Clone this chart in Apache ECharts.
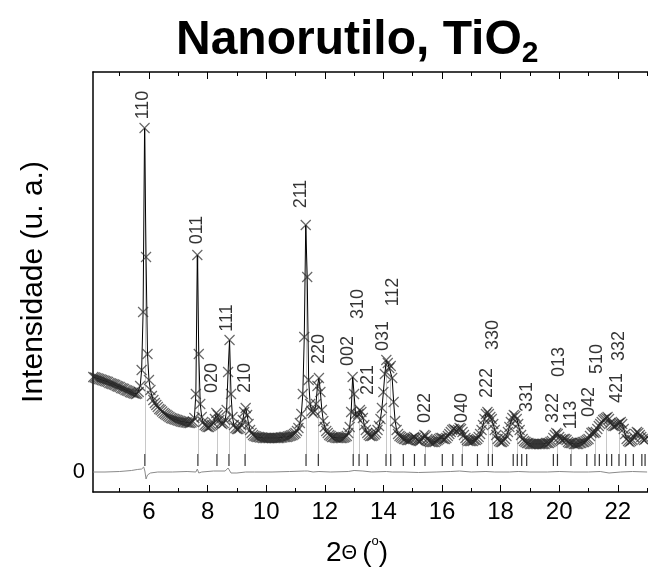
<!DOCTYPE html>
<html>
<head>
<meta charset="utf-8">
<title>Nanorutilo, TiO2</title>
<script src="https://cdn.jsdelivr.net/npm/echarts@6.0.0/dist/echarts.min.js"></script>
<style>
  html, body { margin: 0; padding: 0; background: #fff; }
  #chart { width: 648px; height: 574px; }
</style>
</head>
<body>
<div id="chart"></div>
<script>
// observed pattern, one value every 0.05 deg starting at 4.10
const obsStart = 4.10;
const obsStep = 0.05;
const obsY = [
  95, 94.5, 94, 93.5, 93, 92.5, 92, 91.5, 91, 90.5, 90, 89, 88.5, 88, 87.5, 87, 86, 85.5, 85, 84,
  83.5, 83, 82, 81.5, 81, 80, 79.5, 79, 78.5, 78, 78.5, 80, 86, 102, 160, 344, 215, 118, 92, 82,
  76, 72, 69, 67, 65, 63, 62, 60.5, 59, 58, 57, 56, 55, 54, 53.5, 53, 52.5, 52, 51.5, 51,
  50.5, 50, 50, 49.5, 49.5, 49, 49, 49.5, 50.5, 54, 78, 217, 118, 68, 55, 50, 47, 46, 45, 45,
  46, 47, 49, 53, 59, 57, 52, 49, 48, 49, 52, 62, 100, 132, 78, 55, 47, 44, 43, 43,
  44, 47, 52, 60, 64, 57, 48, 42, 39, 37, 36, 35.5, 35, 35, 34.5, 34.5, 34, 34, 34, 34,
  34, 34, 34, 34, 34, 34, 34, 34, 34.5, 34.5, 35, 35, 35, 35.5, 36, 36.5, 37, 38, 39, 41,
  44, 49, 58, 78, 135, 247, 195, 92, 68, 61, 59, 61, 68, 86, 94, 80, 62, 51, 45, 41,
  39, 37, 36, 35, 35, 34.5, 34, 34, 34, 34, 34, 34.5, 35, 36, 39, 45, 60, 95, 78, 58,
  55, 58, 62, 60, 54, 47, 42, 39, 37, 36, 36, 36.5, 37.5, 39, 42, 46, 53, 64, 80, 98,
  112, 109, 104, 106, 94, 70, 51, 42, 38, 36, 35, 34, 33, 33, 32, 32, 32, 33, 34, 35,
  34, 32, 31, 31, 32, 34, 37, 36, 33, 31, 30, 30, 30, 30, 31, 32, 33, 34, 34, 33,
  33, 34, 36, 38, 40, 42, 43, 42, 41, 42, 44, 43, 40, 37, 34, 32, 31, 31, 31, 31,
  32, 32, 33, 35, 38, 42, 47, 53, 58, 60, 58, 55, 53, 48, 42, 37, 33, 31, 30, 30,
  31, 33, 36, 40, 45, 50, 54, 57, 56, 53, 48, 42, 37, 33, 31, 30, 29, 29, 28, 28,
  28, 28, 28, 28, 28, 28, 28, 28, 28, 29, 29, 29, 30, 31, 34, 37, 39, 38, 35, 33,
  32, 33, 33, 32, 30, 29, 29, 29, 28, 28, 28, 28, 29, 29, 30, 30, 31, 32, 33, 36,
  39, 40, 39, 40, 43, 46, 48, 50, 52, 53, 54, 55, 53, 49, 47, 46, 46, 47, 48, 49,
  50, 48, 43, 38, 33, 31, 30, 31, 32, 35, 38, 40, 39, 37, 35, 33, 32, 33, 35, 36
];

// difference curve (obs - calc)
const diffX = [4.10, 4.5, 5.0, 5.4, 5.6, 5.75, 5.82, 5.86, 5.90, 5.95, 6.05, 6.3, 6.8, 7.3, 7.6,
  7.65, 7.70, 7.8, 8.2, 8.6, 8.7, 8.75, 8.8, 9.0, 9.3, 9.6, 10.2, 10.8, 11.3, 11.35,
  11.42, 11.6, 11.8, 12.2, 12.8, 13.0, 13.3, 13.6, 14.1, 14.3, 14.7, 15.2, 15.8, 16.3, 16.6,
  17.0, 17.5, 17.8, 18.3, 18.6, 19.0, 19.6, 20.0, 20.5, 21.0, 21.4, 21.7, 22.1, 22.5, 23.0];
const diffY = [0, 0, 0.5, 1.5, 2.5, 3, 5, 1, -7, -3, -1, 0, 0, 0.5, 0,
  3, -1, 0, 1, 1, 4, 2, -1, -1, 0, 0, 0, 0.5, 1, 3,
  1, 0, 0.5, 0, 0.5, 1.5, 1, 0, 0.5, 0, 0, -0.5, 0, 0.5, 1,
  0, 0.5, 0, 0, 0.5, 0, 0, 0.5, 0, 0, 0.5, -1, 0, 0.5, 0];

// Bragg reflection positions
const braggPos = [5.86, 7.67, 8.32, 8.73, 9.28, 11.36, 11.78, 12.97, 13.17, 13.45, 14.09, 14.25,
  14.68, 15.06, 15.42, 16.01, 16.37, 16.69, 17.21, 17.58, 17.72, 18.43, 18.57, 18.72, 18.89,
  19.80, 19.94, 20.40, 20.94, 21.22, 21.37, 21.62, 21.79, 22.04, 22.27, 22.53, 22.82, 22.93];

// light reference lines under the main peaks
const refPos = [5.86, 7.67, 8.32, 8.73, 9.28, 11.36, 11.78, 12.97, 13.17, 14.09, 14.25, 15.42,
  16.69, 17.58, 17.72, 18.57, 19.94, 20.40, 21.22, 21.62, 22.04];
const refTop = [344, 217, 59, 132, 64, 247, 94, 95, 62, 112, 106, 37,
  44, 60, 53, 53, 38, 29, 40, 54, 48];

// hkl labels and where they sit
const peakNames = ['110', '011', '020', '111', '210', '211', '220', '002', '310', '221', '031', '112',
  '022', '040', '222', '330', '331', '322', '013', '113', '042', '510', '421', '332'];
const peakX = [5.81, 7.64, 8.15, 8.66, 9.28, 11.19, 11.80, 12.79, 13.13, 13.48, 13.99, 14.33,
  15.42, 16.68, 17.54, 17.74, 18.90, 19.79, 19.99, 20.40, 21.02, 21.29, 21.97, 22.04];
const peakY = [367, 242, 94, 154, 94, 278, 123, 121, 168, 92, 136, 180,
  64, 64, 89, 137, 75, 64, 110, 57, 70, 113, 84, 126];

const majorTicks = [6, 8, 10, 12, 14, 16, 18, 20, 22];
const minorTicks = [5, 7, 9, 11, 13, 15, 17, 19, 21, 23];

const FONT = "'Liberation Sans', Arial, sans-serif";
const X_MIN = 4.09, X_MAX = 23.03;

const obsData = obsY.map((v, i) => [+(obsStart + i * obsStep).toFixed(2), v]);
const diffData = diffX.map((x, i) => [x, diffY[i]]);

function frameAxis(pos, ticks, len, withLine, withLabels) {
  return {
    type: 'value', position: pos, min: X_MIN, max: X_MAX,
    axisLine: { show: withLine, onZero: false, lineStyle: { color: '#000', width: 1.5 } },
    axisTick: { show: true, inside: true, length: len, customValues: ticks, lineStyle: { color: '#000', width: 1 } },
    axisLabel: withLabels
      ? { show: true, customValues: ticks, fontSize: 24, color: '#000', margin: 8, fontFamily: FONT }
      : { show: false },
    splitLine: { show: false }
  };
}

const chart = echarts.init(document.getElementById('chart'));
chart.setOption({
  animation: false,
  backgroundColor: '#fff',
  title: [
    {
      text: 'Nanorutilo, TiO{s|2}',
      left: 176, top: 13, padding: 0,
      textStyle: {
        fontSize: 48, fontWeight: 'bold', fontFamily: FONT, color: '#000', lineHeight: 56,
        rich: { s: { fontSize: 30, fontWeight: 'bold', fontFamily: FONT, color: '#000', lineHeight: 24, verticalAlign: 'bottom' } }
      }
    },
    {
      text: '{a|2}{b|\u0398} {a|(}{c|o}{a|)}',
      left: 326, top: 535, padding: 0,
      textStyle: {
        fontFamily: FONT, fontWeight: 'normal', color: '#000', lineHeight: 36,
        rich: {
          a: { fontSize: 28, fontWeight: 'normal', fontFamily: FONT, color: '#000', lineHeight: 36 },
          b: { fontSize: 20, fontWeight: 'normal', fontFamily: FONT, color: '#000', lineHeight: 36 },
          c: { fontSize: 13, fontWeight: 'normal', fontFamily: FONT, color: '#000', lineHeight: 18, verticalAlign: 'top' }
        }
      }
    }
  ],
  grid: { left: 93, right: 0, top: 72, bottom: 82 },
  xAxis: [
    frameAxis('bottom', majorTicks, 7, true, true),
    frameAxis('bottom', minorTicks, 4, false, false),
    frameAxis('top', majorTicks, 7, true, false),
    frameAxis('top', minorTicks, 4, false, false)
  ],
  yAxis: {
    type: 'value', min: -20, max: 400,
    name: 'Intensidade (u. a.)', nameLocation: 'middle', nameGap: 44,
    nameTextStyle: { fontSize: 30, color: '#000', fontFamily: FONT },
    axisLine: { show: true, lineStyle: { color: '#000', width: 1.5 } },
    axisTick: { show: false },
    axisLabel: { customValues: [0], fontSize: 22, color: '#000', margin: 8, fontFamily: FONT },
    splitLine: { show: false }
  },
  series: [
    {
      type: 'lines', coordinateSystem: 'cartesian2d', silent: true, z: 1,
      data: refPos.map((x, i) => ({ coords: [[x, 18], [x, refTop[i]]] })),
      lineStyle: { color: '#c8c8c8', width: 1, opacity: 1 }
    },
    {
      type: 'line', data: obsData, z: 3, silent: true,
      showSymbol: true, showAllSymbol: true,
      symbol: 'path://M0,0L10,10M10,0L0,10', symbolSize: 10,
      itemStyle: { color: 'rgba(40,40,40,0.7)', borderColor: 'rgba(40,40,40,0.7)', borderWidth: 1.2 },
      lineStyle: { color: '#000', width: 1 }
    },
    {
      type: 'line', data: diffData, symbol: 'none', z: 2, silent: true,
      lineStyle: { color: '#8a8a8a', width: 1 }
    },
    {
      type: 'scatter', data: braggPos.map(x => [x, 12]), z: 2, silent: true,
      symbol: 'rect', symbolSize: [1.2, 12], itemStyle: { color: '#000' }
    },
    {
      type: 'scatter', z: 5, silent: true,
      data: peakNames.map((n, i) => ({ name: n, value: [peakX[i], peakY[i]] })),
      symbolSize: 1, itemStyle: { color: 'rgba(0,0,0,0)' },
      label: { show: true, position: 'inside', rotate: 90, formatter: '{b}', fontSize: 18, color: '#000', fontFamily: FONT }
    }
  ]
});
</script>
</body>
</html>
